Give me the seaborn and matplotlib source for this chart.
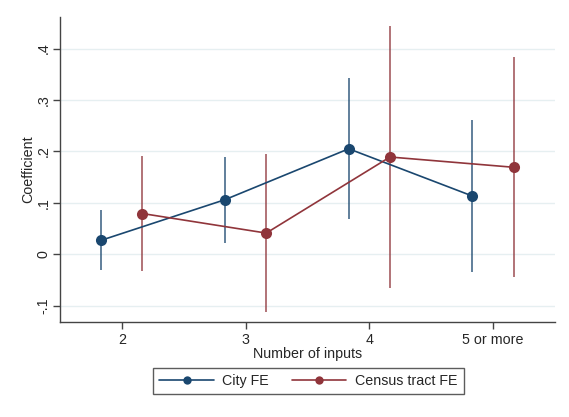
import numpy as np
import pandas as pd
import matplotlib
matplotlib.use("Agg")
import matplotlib.pyplot as plt
from matplotlib.lines import Line2D
import seaborn as sns

# Coefficient estimates and 95% confidence bounds by number of inputs
categories = ["2", "3", "4", "5 or more"]
models = ["City FE", "Census tract FE"]
city_coef = [0.027, 0.106, 0.205, 0.113]
city_lo = [-0.031, 0.022, 0.068, -0.035]
city_hi = [0.086, 0.189, 0.342, 0.261]
tract_coef = [0.079, 0.041, 0.189, 0.169]
tract_lo = [-0.033, -0.113, -0.065, -0.045]
tract_hi = [0.191, 0.195, 0.444, 0.383]
y_ticks = [-0.1, 0.0, 0.1, 0.2, 0.3, 0.4]
y_tick_labels = ["-.1", "0", ".1", ".2", ".3", ".4"]

colors = {"City FE": "#1a476f", "Census tract FE": "#90353b"}
offsets = {"City FE": -1 / 6, "Census tract FE": 1 / 6}

rows = []
for model, coef, lo, hi in [("City FE", city_coef, city_lo, city_hi),
                            ("Census tract FE", tract_coef, tract_lo, tract_hi)]:
    for i, cat in enumerate(categories):
        rows.append({"model": model, "category": cat,
                     "pos": i + 1 + offsets[model],
                     "coef": coef[i], "lo": lo[i], "hi": hi[i]})
df = pd.DataFrame(rows)

sns.set_style("white")
plt.rcParams["font.family"] = ["Liberation Sans", "DejaVu Sans"]

fig = plt.figure(figsize=(5.69, 4.17), dpi=100)
ax = fig.add_axes([0.1054, 0.2278, 0.870, 0.7322])

# horizontal grid
for yt in y_ticks:
    ax.axhline(yt, color="#e6eff1", lw=1.0, zorder=0)

# confidence intervals
for model in models:
    sub = df[df["model"] == model]
    ax.vlines(sub["pos"], sub["lo"], sub["hi"], color=colors[model],
              lw=1.3, alpha=0.75, zorder=2)

sns.lineplot(data=df, x="pos", y="coef", hue="model", hue_order=models,
             palette=colors, marker="o", markersize=8, markeredgewidth=0,
             lw=1.2, sort=True, estimator=None, legend=False, ax=ax, zorder=3)

ax.set_xlim(0.5, 4.5)
ax.set_ylim(-0.132, 0.462)
ax.set_xticks(range(1, len(categories) + 1))
ax.set_xticklabels(categories)
ax.set_yticks(y_ticks)
ax.set_yticklabels(y_tick_labels, rotation=90, va="center")
ax.tick_params(axis="both", direction="out", length=5, width=1,
               color="#444444", labelsize=10.3)
ax.tick_params(axis="x", bottom=True, pad=3)
ax.tick_params(axis="y", left=True, pad=2)

for side in ["top", "right"]:
    ax.spines[side].set_visible(False)
for side in ["left", "bottom"]:
    ax.spines[side].set_color("#444444")
    ax.spines[side].set_linewidth(1.0)

ax.set_xlabel("Number of inputs", fontsize=10.3, labelpad=0)
ax.set_ylabel("Coefficient", fontsize=10.3, labelpad=1)

handles = [Line2D([0], [0], color=colors[m], marker="o", markersize=6,
                  lw=1.2, markeredgewidth=0) for m in models]
leg = fig.legend(handles, models, loc="center", bbox_to_anchor=(0.542, 0.0863),
                 ncol=2, frameon=True, fancybox=False, fontsize=10.3,
                 handlelength=3.8, columnspacing=1.6, borderpad=0.45,
                 handletextpad=0.6)
leg.get_frame().set_edgecolor("#333333")
leg.get_frame().set_linewidth(1.0)

fig.savefig("out.png", dpi=100)
